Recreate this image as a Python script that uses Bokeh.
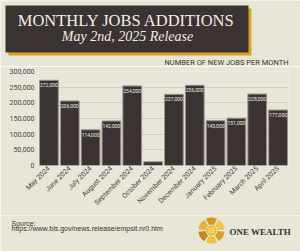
import math
from bokeh.plotting import figure
from bokeh.models import Range1d, ColumnDataSource, NumeralTickFormatter, FixedTicker, LabelSet
from bokeh.layouts import column
from bokeh.embed import file_html
from bokeh.resources import INLINE
from bokeh.core.properties import value

months = ["May 2024", "June 2024", "July 2024", "August 2024", "September 2024",
          "October 2024", "November 2024", "December 2024", "January 2025",
          "February 2025", "March 2025", "April 2025"]
jobs = [272000, 206000, 114000, 142000, 254000, 12000, 227000, 256000,
        143000, 151000, 228000, 177000]
y_ticks = [0, 50000, 100000, 150000, 200000, 250000, 300000]

BG = "#e8e6d8"
DARK = "#3b3331"
GOLD = "#d8a31e"


def deco_fig(h):
    f = figure(width=300, height=h, x_range=Range1d(0, 300), y_range=Range1d(h, 0),
               output_backend="svg", toolbar_location=None, min_border=0,
               min_border_left=0, min_border_right=0, min_border_top=0, min_border_bottom=0,
               x_axis_location=None, y_axis_location=None, frame_align=False)
    f.grid.visible = False
    f.outline_line_color = None
    f.background_fill_color = BG
    f.border_fill_color = BG
    return f


# ---------- header ----------
H1 = 66
hdr = deco_fig(H1)
hdr.quad(left=[8], right=[251], top=[8], bottom=[55], fill_color=GOLD, line_color=None)
hdr.quad(left=[5], right=[248], top=[5], bottom=[52], fill_color=DARK, line_color=None)
hdr.text(x=[126], y=[20], text=["MONTHLY JOBS ADDITIONS"], text_align="center",
         text_baseline="middle", text_color="#f2efe6", text_font=value("Liberation Serif"),
         text_font_size="16.5px")
hdr.text(x=[127], y=[36], text=["May 2nd, 2025 Release"], text_align="center",
         text_baseline="middle", text_color="#f2efe6", text_font=value("Liberation Serif"),
         text_font_style="italic", text_font_size="14px")
hdr.text(x=[288], y=[61.5], text=["NUMBER OF NEW JOBS PER MONTH"], text_align="right",
         text_baseline="middle", text_color="#333333", text_font=value("Roboto"),
         text_font_size="7.5px")

# ---------- chart ----------
src = ColumnDataSource(dict(m=months, v=jobs, lab=[f"{v:,}" for v in jobs]))
p = figure(width=300, height=149, x_range=months, y_range=Range1d(0, 300000),
           output_backend="svg", toolbar_location=None, frame_align=False,
           min_border_left=38, min_border_right=12, min_border_top=5, min_border_bottom=50)
p.background_fill_color = BG
p.border_fill_color = BG
p.outline_line_color = None
p.vbar(x="m", top="v", width=0.9, source=src, fill_color=DARK, line_color="#9a948c", line_width=1)
p.add_layout(LabelSet(x="m", y="v", text="lab", source=src, text_align="center",
                      text_baseline="top", y_offset=-3, text_color="#f0ede4",
                      text_font=value("Roboto"), text_font_size="5px"))
p.xgrid.visible = False
p.ygrid.grid_line_color = "#d4d1c3"
p.ygrid.bounds = (0, 250000)
p.yaxis.ticker = FixedTicker(ticks=y_ticks)
p.yaxis.formatter = NumeralTickFormatter(format="0,0")
for ax in (p.xaxis[0], p.yaxis[0]):
    ax.axis_line_color = None
    ax.major_tick_line_color = None
    ax.minor_tick_line_color = None
    ax.major_tick_out = 0
    ax.major_label_text_font = "Roboto"
    ax.major_label_text_font_size = "7px"
    ax.major_label_text_color = "#444444"
p.yaxis.major_label_standoff = 4
p.xaxis.major_label_orientation = math.pi / 4
p.xaxis.major_label_standoff = 2

# ---------- footer ----------
H3 = 36
ftr = deco_fig(H3)
ftr.text(x=[11, 11], y=[8, 13], text=["Source:", "https://www.bls.gov/news.release/empsit.nr0.htm"],
         text_baseline="middle", text_color="#333333", text_font=value("Liberation Sans"),
         text_font_size="7px")
cx, cy = 211, 15
golds = ["#f2c443", "#d39a1f", "#e8b333", "#c4861a", "#f0be3a", "#d9a126"]
for i in range(6):
    a0 = math.radians(i * 60 + 5)
    ftr.annular_wedge(x=[cx], y=[cy], inner_radius=6, outer_radius=13, start_angle=[a0],
                      end_angle=[a0 + math.radians(50)], fill_color=golds[i], line_color=None)
ftr.circle(x=[cx], y=[cy], radius=4.5, fill_color="#f6cf4e", line_color="#d8a31e")
ftr.text(x=[229], y=[16], text=["ONE WEALTH"], text_baseline="middle", text_color="#333333",
         text_font=value("Liberation Serif"), text_font_style="bold", text_font_size="9px")

layout = column(hdr, p, ftr, spacing=0)
open("out.html", "w").write(file_html(layout, INLINE))
